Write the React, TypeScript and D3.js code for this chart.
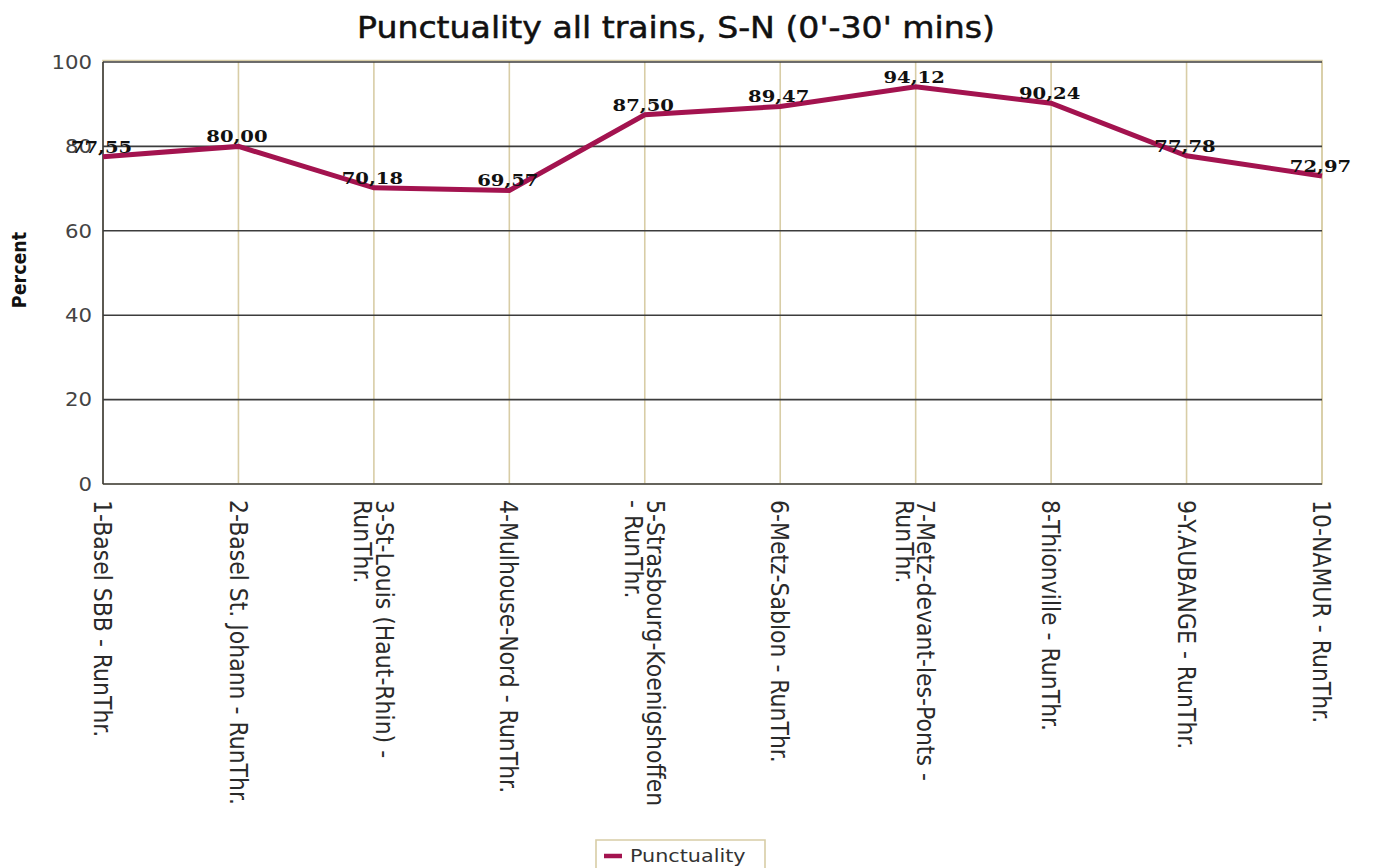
import React from "react";
import * as d3 from "d3";

const title = "Punctuality all trains, S-N (0'-30' mins)";
const yAxisTitle = "Percent";
const seriesName = "Punctuality";

const categories = [
  "1-Basel SBB - RunThr.",
  "2-Basel St. Johann - RunThr.",
  "3-St-Louis (Haut-Rhin) - RunThr.",
  "4-Mulhouse-Nord - RunThr.",
  "5-Strasbourg-Koenigshoffen - RunThr.",
  "6-Metz-Sablon - RunThr.",
  "7-Metz-devant-les-Ponts - RunThr.",
  "8-Thionville - RunThr.",
  "9-Y.AUBANGE - RunThr.",
  "10-NAMUR - RunThr.",
];

const categoryLines = [
  ["1-Basel SBB - RunThr."],
  ["2-Basel St. Johann - RunThr."],
  ["3-St-Louis (Haut-Rhin) -", "RunThr."],
  ["4-Mulhouse-Nord - RunThr."],
  ["5-Strasbourg-Koenigshoffen", "- RunThr."],
  ["6-Metz-Sablon - RunThr."],
  ["7-Metz-devant-les-Ponts -", "RunThr."],
  ["8-Thionville - RunThr."],
  ["9-Y.AUBANGE - RunThr."],
  ["10-NAMUR - RunThr."],
];

const punctuality = [77.55, 80.0, 70.18, 69.57, 87.5, 89.47, 94.12, 90.24, 77.78, 72.97];

const yTicks = [0, 20, 40, 60, 80, 100];

// layout (screen px); the drawing is stretched horizontally by SX
const SX = 1.12;
const W = 1373;
const H = 868;
const VW = W / SX;
const plotLeft = 103;
const plotRight = 1322;
const plotTop = 62;
const plotBottom = 484;

const SANS = "'DejaVu Sans', sans-serif";
const SERIF = "'DejaVu Serif', serif";
const LINE_COLOR = "#a3134f";
const VGRID = "#d8cda6";
const HGRID = "#3c3c3c";

export default function App() {
  const x = d3
    .scalePoint<string>()
    .domain(categories)
    .range([plotLeft / SX, plotRight / SX])
    .padding(0);
  const y = d3.scaleLinear().domain([0, 100]).range([plotBottom, plotTop]);

  const line = d3
    .line<number>()
    .x((_, i) => x(categories[i]) as number)
    .y((d) => y(d));

  const fmt = (v: number) => d3.format(".2f")(v).replace(".", ",");
  const nss = { vectorEffect: "non-scaling-stroke" } as any;

  const pl = plotLeft / SX;
  const pr = plotRight / SX;

  return (
    <svg
      width={W}
      height={H}
      viewBox={`0 0 ${VW} ${H}`}
      preserveAspectRatio="none"
      style={{ position: "absolute", left: 0, top: 0, display: "block", background: "#fff" }}
    >
      <rect x={0} y={0} width={VW} height={H} fill="#fff" />
      {/* title */}
      <text
        x={676 / SX}
        y={38}
        textAnchor="middle"
        fontFamily={SANS}
        fontSize={29.6}
        fill="#111"
        stroke="#111"
        strokeWidth={0.5}
      >
        {title}
      </text>

      {/* plot outline (beige) */}
      <rect
        x={pl}
        y={plotTop - 1.5}
        width={pr - pl}
        height={plotBottom - plotTop + 1.5}
        fill="none"
        stroke={VGRID}
        strokeWidth={1.5}
        style={nss}
      />

      {/* vertical gridlines */}
      {categories.map((c) => (
        <line
          key={"v" + c}
          x1={x(c)}
          x2={x(c)}
          y1={plotTop}
          y2={plotBottom}
          stroke={VGRID}
          strokeWidth={1.6}
          style={nss}
        />
      ))}

      {/* horizontal gridlines */}
      {yTicks.map((t) => (
        <line
          key={"h" + t}
          x1={pl}
          x2={pr}
          y1={y(t)}
          y2={y(t)}
          stroke={HGRID}
          strokeWidth={1.6}
          style={nss}
        />
      ))}

      {/* left axis line */}
      <line x1={pl} x2={pl} y1={plotTop} y2={plotBottom} stroke={HGRID} strokeWidth={1.6} style={nss} />

      {/* y tick labels */}
      {yTicks.map((t) => (
        <text
          key={"yl" + t}
          x={92 / SX}
          y={y(t)}
          dy="0.36em"
          textAnchor="end"
          fontFamily={SANS}
          fontSize={19}
          fill="#444"
        >
          {t}
        </text>
      ))}

      {/* y axis title */}
      <text
        transform={`translate(${19 / SX},${270}) rotate(-90)`}
        dy="0.36em"
        textAnchor="middle"
        fontFamily={SANS}
        fontWeight="bold"
        fontSize={17.5}
        fill="#111"
      >
        {yAxisTitle}
      </text>

      {/* category labels */}
      {categories.map((c, i) => {
        const lines = categoryLines[i];
        const step = 19;
        const off = ((lines.length - 1) * step) / 2;
        return (
          <text
            key={"cl" + c}
            transform={`translate(${x(c)},${500}) rotate(90)`}
            fontFamily={SANS}
            fontSize={22}
            fill="#2a2a2a"
          >
            {lines.map((ln, j) => (
              <tspan key={j} x={0} y={-off + j * step} dy="0.36em">
                {ln}
              </tspan>
            ))}
          </text>
        );
      })}

      {/* series line */}
      <path
        d={line(punctuality) || ""}
        fill="none"
        stroke={LINE_COLOR}
        strokeWidth={5}
        strokeLinejoin="miter"
        style={nss}
      />

      {/* value labels */}
      {punctuality.map((v, i) => (
        <text
          key={"v" + i}
          x={(x(categories[i]) as number) - 1.5 / SX}
          y={y(v) - 4}
          textAnchor="middle"
          fontFamily={SERIF}
          fontWeight="bold"
          fontSize={17.5}
          fill="#111"
        >
          {fmt(v)}
        </text>
      ))}

      {/* legend */}
      <rect
        x={596 / SX}
        y={840}
        width={(765 - 596) / SX}
        height={34}
        fill="#fff"
        stroke={VGRID}
        strokeWidth={1.6}
        style={nss}
      />
      <line
        x1={604 / SX}
        x2={622 / SX}
        y1={856}
        y2={856}
        stroke={LINE_COLOR}
        strokeWidth={4.5}
        style={nss}
      />
      <text x={630 / SX} y={862} fontFamily={SANS} fontSize={18.5} fill="#333">
        {seriesName}
      </text>
    </svg>
  );
}
